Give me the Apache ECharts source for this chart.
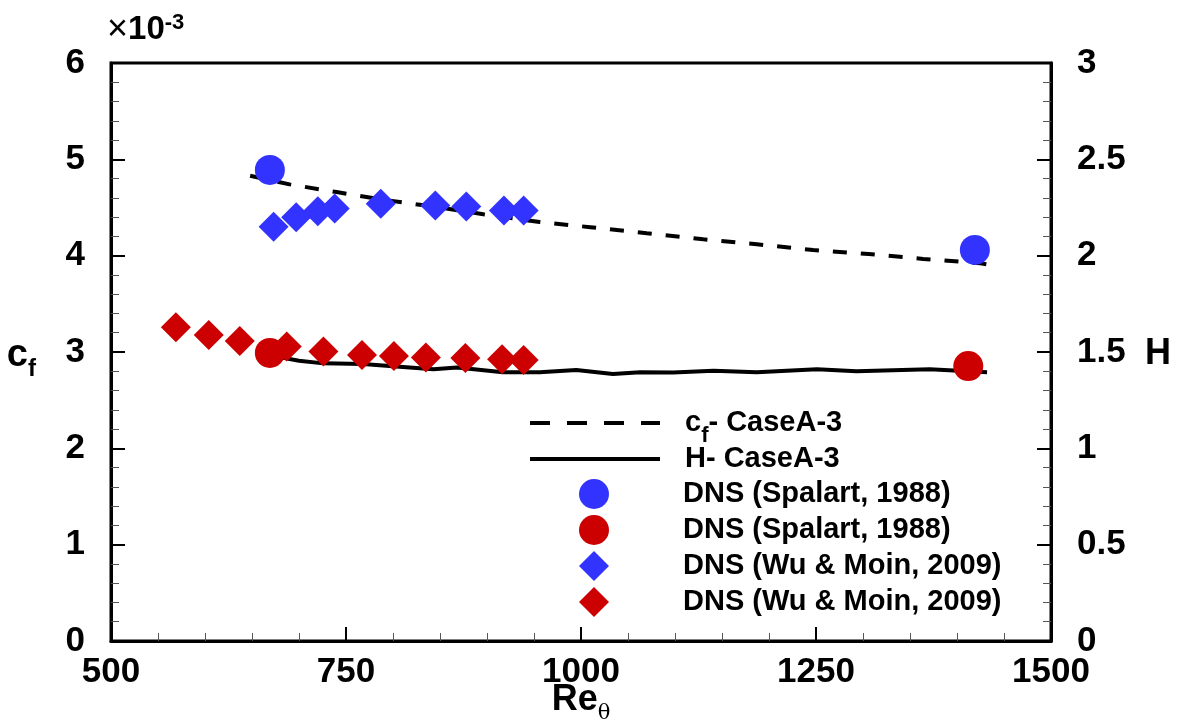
<!DOCTYPE html>
<html>
<head>
<meta charset="utf-8">
<script src="https://cdn.jsdelivr.net/npm/echarts@6/dist/echarts.min.js"></script>
<style>
html,body{margin:0;padding:0;background:#fff;}
#chart{width:1188px;height:723px;}
</style>
</head>
<body>
<div id="chart"></div>
<script>
// ---- data (Re_theta, values) ----
const xTicks = [500, 750, 1000, 1250, 1500];

// c_f (x 1e-3) from CaseA-3 (dashed line)
const cfCaseRe = [648, 690, 740, 790, 850, 896, 956, 1010, 1070, 1130, 1187, 1247, 1306, 1364, 1425, 1432];
const cfCase   = [4.83, 4.74, 4.66, 4.58, 4.50, 4.43, 4.35, 4.295, 4.232, 4.17, 4.118, 4.059, 4.017, 3.966, 3.921, 3.91];

// H from CaseA-3 (solid line)
const hCaseRe = [672, 700, 726, 768, 807, 843, 868, 917, 956, 995, 1034, 1063, 1098, 1141, 1187, 1251, 1293, 1371, 1432];
const hCase   = [1.48, 1.455, 1.441, 1.438, 1.424, 1.41, 1.419, 1.395, 1.395, 1.407, 1.386, 1.395, 1.393, 1.403, 1.395, 1.41, 1.40, 1.41, 1.395];

// DNS Spalart 1988
const spalartCfRe = [669, 1419];
const spalartCf   = [4.89, 4.06];
const spalartHRe  = [669, 1412];
const spalartH    = [1.495, 1.427];

// DNS Wu & Moin 2009
const wuCfRe = [673, 697, 720, 738, 787, 845, 878, 918, 939];
const wuCf   = [4.30, 4.40, 4.46, 4.49, 4.54, 4.52, 4.51, 4.47, 4.47];
const wuHRe  = [569, 604, 637, 687, 726, 767, 801, 835, 877, 916, 939];
const wuH    = [1.628, 1.588, 1.557, 1.528, 1.502, 1.484, 1.479, 1.472, 1.469, 1.462, 1.458];

const legendLabels = {
  cfCase: '{c|c}{f|f}{t|- CaseA-3}',
  hCase: 'H- CaseA-3',
  spalartCf: 'DNS (Spalart, 1988)',
  spalartH: 'DNS (Spalart, 1988)',
  wuCf: 'DNS (Wu & Moin, 2009)',
  wuH: 'DNS (Wu & Moin, 2009)'
};

const zip = (a, b) => a.map((v, i) => [v, b[i]]);
const FONT = "'Liberation Sans', Arial, Helvetica, sans-serif";
const BLUE = '#3333ff';
const RED = '#cc0000';

const chart = echarts.init(document.getElementById('chart'), null, {renderer: 'canvas'});

const tickCommon = {
  axisLine: {show: true, onZero: false, lineStyle: {color: '#000', width: 3}},
  axisTick: {show: true, inside: true, length: 14, lineStyle: {color: '#000', width: 2}},
  minorTick: {show: true, splitNumber: 5, length: 8, lineStyle: {color: '#555', width: 1}},
  splitLine: {show: false},
  minorSplitLine: {show: false}
};
const plainNum = v => String(v);
const legendText = {fontFamily: FONT, fontSize: 29, fontWeight: 'bold', color: '#000', lineHeight: 30};

const option = {
  backgroundColor: '#fff',
  animation: false,
  textStyle: {fontFamily: FONT},
  title: {
    left: 102, top: 7,
    text: '{x|×}{n|10}{s|-3}',
    textStyle: {
      rich: {
        x: {fontFamily: FONT, fontSize: 36, fontWeight: 'normal', color: '#000'},
        n: {fontFamily: FONT, fontSize: 33, fontWeight: 'bold', color: '#000'},
        s: {fontFamily: FONT, fontSize: 22, fontWeight: 'bold', color: '#000', verticalAlign: 'top', lineHeight: 22}
      }
    }
  },
  grid: {left: 111, right: 137, top: 63, bottom: 82, containLabel: false, outerBoundsMode: 'none',
         show: true, borderColor: '#000', borderWidth: 3, backgroundColor: 'transparent'},
  xAxis: Object.assign({
    type: 'value', min: 500, max: 1500, interval: 250,
    name: '{r|Re}{t|θ}', nameLocation: 'middle', nameGap: 41, nameMoveOverlap: false,
    nameTextStyle: {
      rich: {
        r: {fontFamily: FONT, fontSize: 36, fontWeight: 'bold', color: '#000', lineHeight: 36},
        t: {fontFamily: 'DejaVu Serif', fontSize: 21, color: '#000', verticalAlign: 'bottom', height: 8}
      }
    },
    axisLabel: {fontSize: 35, fontWeight: 'bold', color: '#000', margin: 14, fontFamily: FONT, formatter: plainNum}
  }, tickCommon),
  yAxis: [
    Object.assign({
      type: 'value', min: 0, max: 6, interval: 1, position: 'left',
      name: '{c|c}{f|f}', nameLocation: 'middle', nameGap: 75, nameRotate: 0, nameMoveOverlap: false,
      nameTextStyle: {
        padding: [8, 0, 0, 0],
        rich: {
          c: {fontFamily: FONT, fontSize: 38, fontWeight: 'bold', color: '#000', lineHeight: 38},
          f: {fontFamily: FONT, fontSize: 24, fontWeight: 'bold', color: '#000', verticalAlign: 'bottom', height: 12}
        }
      },
      axisLabel: {fontSize: 35, fontWeight: 'bold', color: '#000', margin: 26, fontFamily: FONT, formatter: plainNum}
    }, tickCommon),
    Object.assign({
      type: 'value', min: 0, max: 3, interval: 0.5, position: 'right',
      name: '{h|H}', nameLocation: 'middle', nameGap: 94, nameRotate: 0, nameMoveOverlap: false,
      nameTextStyle: {
        align: 'left',
        rich: {
          h: {fontFamily: FONT, fontSize: 36, fontWeight: 'bold', color: '#000', lineHeight: 36, padding: [4, 0, 0, 0]}
        }
      },
      axisLabel: {fontSize: 35, fontWeight: 'bold', color: '#000', margin: 26, fontFamily: FONT, formatter: plainNum}
    }, tickCommon)
  ],
  legend: [
    {
      orient: 'vertical', left: 528, top: 408, padding: 0, itemWidth: 130, itemHeight: 30, itemGap: 6,
      selectedMode: false,
      itemStyle: {opacity: 0},
      lineStyle: {type: [20, 17], width: 4},
      data: ['cfCase'],
      formatter: n => legendLabels[n],
      textStyle: {
        padding: [0, 0, 0, 20],
        lineHeight: 30,
        rich: {
          c: Object.assign({}, legendText),
          f: Object.assign({}, legendText, {fontSize: 22, verticalAlign: 'bottom', height: 5}),
          t: Object.assign({}, legendText)
        }
      }
    },
    {
      orient: 'vertical', left: 528, top: 444, padding: 0, itemWidth: 130, itemHeight: 30, itemGap: 6,
      selectedMode: false,
      itemStyle: {opacity: 0},
      lineStyle: {width: 4},
      data: ['hCase'],
      formatter: n => legendLabels[n],
      textStyle: Object.assign({padding: [0, 0, 0, 20]}, legendText)
    },
    {
      orient: 'vertical', left: 579, top: 479, padding: 0, itemWidth: 30, itemHeight: 30, itemGap: 6,
      selectedMode: false,
      data: ['spalartCf', 'spalartH', 'wuCf', 'wuH'],
      formatter: n => legendLabels[n],
      textStyle: Object.assign({padding: [0, 0, 0, 69]}, legendText)
    }
  ],
  series: [
    {
      name: 'cfCase', type: 'line', yAxisIndex: 0, symbol: 'none', z: 2,
      data: zip(cfCaseRe, cfCase),
      lineStyle: {color: '#000', width: 4, type: [14, 14]},
      itemStyle: {color: '#000'}
    },
    {
      name: 'hCase', type: 'line', yAxisIndex: 1, symbol: 'none', z: 2,
      data: zip(hCaseRe, hCase),
      lineStyle: {color: '#000', width: 4, type: 'solid'},
      itemStyle: {color: '#000'}
    },
    {
      name: 'spalartCf', type: 'scatter', yAxisIndex: 0, symbol: 'circle', symbolSize: 30, z: 3,
      data: zip(spalartCfRe, spalartCf), itemStyle: {color: BLUE, opacity: 1}
    },
    {
      name: 'spalartH', type: 'scatter', yAxisIndex: 1, symbol: 'circle', symbolSize: 30, z: 3,
      data: zip(spalartHRe, spalartH), itemStyle: {color: RED, opacity: 1}
    },
    {
      name: 'wuCf', type: 'scatter', yAxisIndex: 0, symbol: 'diamond', symbolSize: 30, z: 4,
      data: zip(wuCfRe, wuCf), itemStyle: {color: BLUE, opacity: 1}
    },
    {
      name: 'wuH', type: 'scatter', yAxisIndex: 1, symbol: 'diamond', symbolSize: 30, z: 4,
      data: zip(wuHRe, wuH), itemStyle: {color: RED, opacity: 1}
    }
  ]
};
chart.setOption(option);
</script>
</body>
</html>
